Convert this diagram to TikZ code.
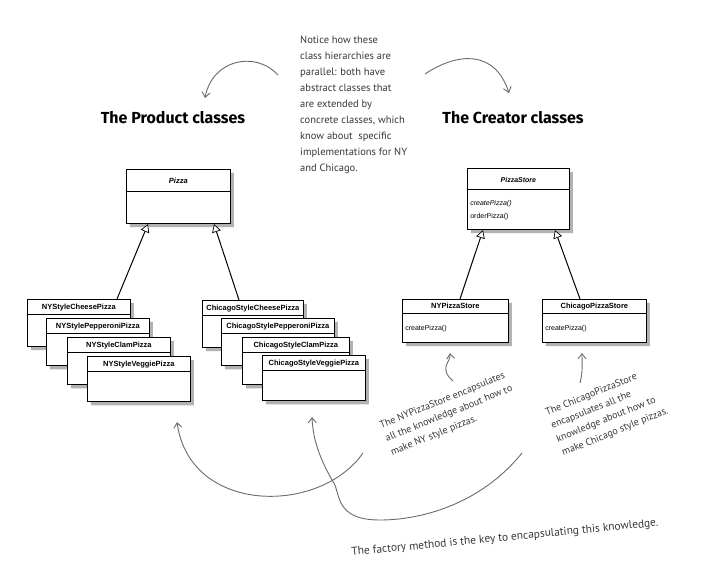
\documentclass[tikz,border=0pt]{standalone}
\usepackage{fontspec}
\setmainfont{Liberation Sans}
\newfontfamily\notefont{PT Sans}
\newfontfamily\titlefont{Fira Sans}
\usetikzlibrary{shapes.multipart,shadows,arrows.meta,calc}
\definecolor{notegray}{gray}{0.22}
\definecolor{curvegray}{gray}{0.42}
\newcommand\hsm[2]{\makebox[#1pt][c]{\rule[-4pt]{0pt}{14pt}\textbf{#2}}}
\newcommand\bsm{\rule{0pt}{32pt}}
\begin{document}
\begin{tikzpicture}[x=1pt,y=-1pt,
  cls/.style={rectangle split, rectangle split parts=2,
    draw=black, line width=0.7pt,
    fill=white, inner xsep=3pt, inner ysep=0pt, anchor=north west,
    font=\fontsize{7.5}{9}\selectfont,
    drop shadow={shadow xshift=3.5pt, shadow yshift=-3.5pt, fill=black!55, opacity=0.55}},
  inh/.style={draw=black, line width=1pt,
    -{Triangle[open, length=8pt, width=9pt, fill=white, line width=0.7pt]}},
  note/.style={font=\notefont\fontsize{10.5}{16}\selectfont, text=notegray,
    align=left, inner sep=0pt},
  rnote/.style={font=\notefont\fontsize{10}{14.5}\selectfont, text=notegray,
    align=left, inner sep=0pt},
  hand/.style={draw=curvegray, line width=0.9pt,
    -{Straight Barb[length=5pt, width=8pt]}},
  ttl/.style={font=\titlefont\bfseries\fontsize{16}{19}\selectfont, inner sep=0pt}]
\useasboundingbox[fill=white] (0,0) rectangle (707,585);

% titles
\node[ttl] (ptitle) at (173,118) {The Product classes};
\node[ttl] (ctitle) at (513,118) {The Creator classes};

% top note
\node[note, anchor=north west] (parnote) at (300,36)
 {Notice how these\\class hierarchies are\\parallel: both have\\abstract classes that\\are extended by\\concrete classes, which\\know about\ \ specific\\implementations for NY\\and Chicago.};

% abstract classes
\node[cls, text width=98pt] (pizza) at (126,169)
 {\makebox[98pt][c]{\rule[-7pt]{0pt}{21pt}\textbf{\textit{Pizza}}}\nodepart{two}\rule{0pt}{32pt}};
\node[cls, text width=96pt, font=\fontsize{7}{13}\selectfont] (pstore) at (467,168)
 {\makebox[96pt][c]{\rule[-6pt]{0pt}{20pt}\textbf{\textit{PizzaStore}}}\nodepart{two}\rule{0pt}{16pt}\textit{createPizza()}\\\rule[-11pt]{0pt}{0pt}orderPizza()};

% NY products
\node[cls, text width=97pt] (nycheese) at (27,299) {\hsm{97}{NYStyleCheesePizza}\nodepart{two}\bsm};
\node[cls, text width=97pt] (nypep) at (46,318) {\hsm{97}{NYStylePepperoniPizza}\nodepart{two}\bsm};
\node[cls, text width=97pt] (nyclam) at (67,337) {\hsm{97}{NYStyleClamPizza}\nodepart{two}\bsm};
\node[cls, text width=97pt] (nyveg) at (87,356) {\hsm{97}{NYStyleVeggiePizza}\nodepart{two}\rule{0pt}{30pt}};

% Chicago products
\node[cls, text width=95pt] (chcheese) at (202,300) {\hsm{95}{ChicagoStyleCheesePizza}\nodepart{two}\bsm};
\node[cls, text width=107pt] (chpep) at (221,318) {\hsm{107}{ChicagoStylePepperoniPizza}\nodepart{two}\bsm};
\node[cls, text width=101pt] (chclam) at (242,337) {\hsm{101}{ChicagoStyleClamPizza}\nodepart{two}\bsm};
\node[cls, text width=97pt] (chveg) at (262,355) {\hsm{97}{ChicagoStyleVeggiePizza}\nodepart{two}\rule{0pt}{30pt}};

% creators
\node[cls, text width=100pt, font=\fontsize{7}{9}\selectfont] (nystore) at (402,299)
 {\makebox[100pt][c]{\rule[-4pt]{0pt}{13pt}\textbf{\fontsize{7.5}{9}\selectfont NYPizzaStore}}\nodepart{two}\rule[-12pt]{0pt}{29pt}createPizza()};
\node[cls, text width=98pt, font=\fontsize{7}{9}\selectfont] (chstore) at (542,299)
 {\makebox[98pt][c]{\rule[-4pt]{0pt}{13pt}\textbf{\fontsize{7.5}{9}\selectfont ChicagoPizzaStore}}\nodepart{two}\rule[-12pt]{0pt}{29pt}createPizza()};

% inheritance
\draw[inh] ($(nycheese.north west)+(90,0)$) -- ($(pizza.south west)+(22,0)$);
\draw[inh] ($(chcheese.north west)+(37,0)$) -- ($(pizza.south west)+(88,0)$);
\draw[inh] ($(nystore.north west)+(58,0)$) -- ($(pstore.south west)+(16,0)$);
\draw[inh] ($(chstore.north west)+(38,0)$) -- ($(pstore.south west)+(88,0)$);

% rotated notes
\node[rnote, rotate=22] (nynote) at (449,414)
 {The NYPizzaStore encapsulates\\all the knowledge about how to\\make NY style pizzas.};
\node[rnote, rotate=22] (chnote) at (607,412)
 {The ChicagoPizzaStore\\encapsulates all the\\knowledge about how to\\make Chicago style pizzas.};
\node[rnote, font=\notefont\fontsize{11.4}{14}\selectfont, rotate=5.5] (keynote) at (505,538)
 {The factory method is the key to encapsulating this knowledge.};

% hand-drawn arrows
\coordinate (tl0) at (278,75);
\coordinate (tl1) at (205,98);
\draw[hand] (tl0) .. controls (255,50) and (212,60) .. (tl1);
\coordinate (tr0) at (425,74);
\coordinate (tr1) at (509,93);
\draw[hand] (tr0) .. controls (458,52) and (495,50) .. (tr1);

\coordinate (nya) at (453,381);
\draw[hand] (nya) .. controls (438,368) and (451,362) .. ($(nystore.south west)+(48,10)$);
\coordinate (cha) at (580,383);
\draw[hand] (cha) .. controls (583,372) and (582,362) .. ($(chstore.south west)+(40,10)$);

\coordinate (c1a) at (363,453);
\draw[hand] (c1a) .. controls (320,515) and (190,515) .. ($(nyveg.south west)+(90,20)$);
\coordinate (c2a) at (522,453);
\draw[hand] (c2a) .. controls (480,505) and (420,520) .. (380,520)
  .. controls (340,520) and (340,500) .. (335,485)
  .. controls (320,460) and (313,440) .. ($(chveg.south west)+(50,16)$);
\end{tikzpicture}
\end{document}
